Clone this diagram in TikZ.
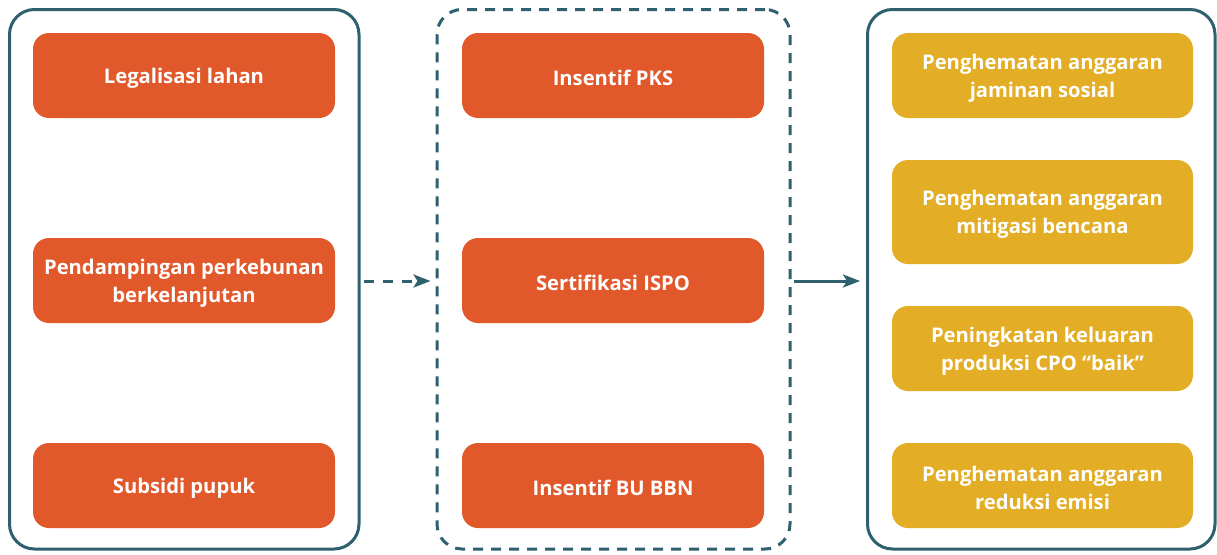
\documentclass[tikz,border=0pt]{standalone}
\usepackage{fontspec}
\setmainfont{Open Sans}
\usetikzlibrary{arrows.meta}
\definecolor{orng}{RGB}{225,88,42}
\definecolor{yell}{RGB}{227,173,37}
\definecolor{teal}{RGB}{46,96,110}
\begin{document}
\begin{tikzpicture}[x=1pt,y=-1pt,
  outer/.style={draw=teal,line width=3pt,rounded corners=25pt,minimum width=#1,minimum height=539.5pt,inner sep=0pt},
  card/.style={rounded corners=16pt,minimum width=302pt,minimum height=85pt,inner sep=0pt},
  ctext/.style={text=white,align=center,font=\fontsize{20.2}{28}\selectfont\bfseries,yshift=-2.5pt},
  ocard/.style={card,fill=orng},
  ycard/.style={card,fill=yell,minimum width=301pt},
  conn/.style={draw=teal,line width=3pt,-{Stealth[length=17pt,width=13pt,inset=4pt]}}
]
\useasboundingbox (0,0) rectangle (1217,554);
\node[outer=349.5pt] (L) at (184.25,279.25) {};
\node[outer=353pt,dash pattern=on 10pt off 8pt] (M) at (613.5,279.25) {};
\node[outer=347.5pt] (R) at (1041.25,279.25) {};

\node[ocard,label={[ctext]center:Legalisasi lahan}] (l1) at (184,75.5) {};
\node[ocard,label={[ctext]center:Pendampingan perkebunan\\berkelanjutan}] (l2) at (184,280.5) {};
\node[ocard,label={[ctext]center:Subsidi pupuk}] (l3) at (184,485.5) {};

\node[ocard,label={[ctext]center:Insentif PKS}] (m1) at (613,75.5) {};
\node[ocard,label={[ctext]center:Sertifikasi ISPO}] (m2) at (613,280.5) {};
\node[ocard,label={[ctext]center:Insentif BU BBN}] (m3) at (613,485.5) {};

\node[ycard,label={[ctext]center:Penghematan anggaran\\jaminan sosial}] (r1) at (1042.5,75.5) {};
\node[ycard,minimum height=104pt,label={[ctext]center:Penghematan anggaran\\mitigasi bencana}] (r2) at (1042.5,212) {};
\node[ycard,label={[ctext]center:Peningkatan keluaran\\produksi CPO “baik”}] (r3) at (1042.5,348.5) {};
\node[ycard,label={[ctext]center:Penghematan anggaran\\reduksi emisi}] (r4) at (1042.5,485.5) {};

\draw[conn,dash pattern=on 10pt off 9pt,shorten <=3pt,shorten >=5pt] ([yshift=-1.75pt]L.east) -- ([yshift=-1.75pt]M.west);
\draw[conn,shorten <=2pt,shorten >=6pt] ([yshift=-1.75pt]M.east) -- ([yshift=-1.75pt]R.west);
\end{tikzpicture}
\end{document}
